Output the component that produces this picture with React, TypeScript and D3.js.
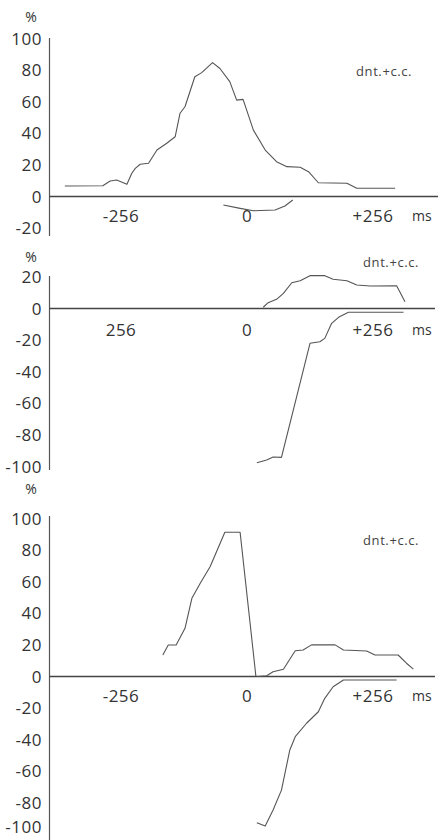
import React from "react";
import * as d3 from "d3";

// Time (ms) / percentage readings for each panel
const p1Rise: [number, number][] = [
  [-370, 6.6], [-293, 6.8], [-278, 9.8], [-265, 10.4], [-255, 9.2], [-244, 7.7],
  [-234, 14.7], [-227, 17.8], [-217, 20.4], [-200, 21], [-183, 29.4], [-163, 33.7],
  [-146, 37.8], [-136, 52.7], [-126, 56.8], [-106, 75.8], [-92, 78.4], [-70, 84.7],
  [-55, 81], [-35, 72.7], [-21, 61], [-8, 61.5], [13, 42], [37, 29.4], [60, 22],
  [81, 18.9], [108, 18.5], [125, 15.7], [145, 8.7], [203, 8.4], [223, 5.2], [301, 5.2],
];
const p1Dip: [number, number][] = [
  [-48, -5.4], [-14, -7.5], [13, -9], [57, -8.5], [77, -6], [93, -2.2],
];

const p2Rise: [number, number][] = [
  [33, 0.8], [43, 3.7], [60, 5.8], [74, 9.6], [91, 16.3], [108, 17.6], [128, 20.8],
  [158, 20.8], [175, 18.5], [203, 17.6], [223, 14.9], [250, 14.2], [304, 14.4], [321, 4.3],
];
const p2Drop: [number, number][] = [
  [20, -97.6], [40, -95.9], [53, -94], [70, -94.2], [128, -22], [148, -21],
  [158, -18.9], [172, -9.4], [186, -5.6], [206, -2.4], [318, -2.4],
];

const p3Pre: [number, number][] = [
  [-171, 13.6], [-160, 19.9], [-144, 19.9], [-126, 30.5], [-112, 49.5], [-95, 59],
  [-75, 69.5], [-45, 91.3], [-14, 91.3], [18, 0.3],
];
const p3Rise: [number, number][] = [
  [20, 0], [40, 0.5], [53, 3], [74, 4.6], [98, 16.3], [114, 16.8], [131, 20],
  [179, 20], [196, 16.8], [243, 16.1], [260, 13.6], [307, 13.6], [324, 8.4], [338, 4.7],
];
const p3Drop: [number, number][] = [
  [20, -92.5], [37, -94.6], [53, -84.5], [70, -71.9], [87, -46.5], [98, -38.1],
  [121, -29.6], [145, -22.3], [158, -13.8], [175, -6.5], [196, -2.2], [304, -2.2],
];

const p1Ticks = [100, 80, 60, 40, 20, 0, -20];
const p2Ticks = [20, 0, -20, -40, -60, -80, -100];
const p3Ticks = [100, 80, 60, 40, 20, 0, -20, -40, -60, -80, -100];
const p1XLabels: [number, string][] = [[-256, "-256"], [0, "0"], [256, "+256"]];
const p2XLabels: [number, string][] = [[-256, "256"], [0, "0"], [256, "+256"]];
const p3XLabels: [number, string][] = [[-256, "-256"], [0, "0"], [256, "+256"]];
const caption = "dnt.+c.c.";

const x = d3.scaleLinear().domain([-256, 256]).range([121, 373]);

const INK = "#555";
const TEXT = "#333";
const FONT = "'Open Sans', 'DejaVu Sans', sans-serif";

type Panel = {
  y: d3.ScaleLinear<number, number>;
  ticks: number[];
  xLabels: [number, string][];
  series: [number, number][][];
  axisTop: number;
  axisBottom: number;
  zeroEnd: number;
  pctY: number;
  labelBase: number;
  captionX: number;
  captionY: number;
};

const panels: Panel[] = [
  {
    y: d3.scaleLinear().domain([-20, 100]).range([228.1, 38.5]),
    ticks: p1Ticks, xLabels: p1XLabels, series: [p1Rise, p1Dip],
    axisTop: 38, axisBottom: 236, zeroEnd: 438, pctY: 22, labelBase: 222,
    captionX: 356, captionY: 76,
  },
  {
    y: d3.scaleLinear().domain([-100, 20]).range([466.5, 276.9]),
    ticks: p2Ticks, xLabels: p2XLabels, series: [p2Rise, p2Drop],
    axisTop: 276, axisBottom: 470, zeroEnd: 435, pctY: 262, labelBase: 336,
    captionX: 363, captionY: 267,
  },
  {
    y: d3.scaleLinear().domain([-100, 100]).range([834.5, 518.5]),
    ticks: p3Ticks, xLabels: p3XLabels, series: [p3Pre, p3Rise, p3Drop],
    axisTop: 516, axisBottom: 840, zeroEnd: 435, pctY: 494, labelBase: 702,
    captionX: 363, captionY: 545,
  },
];

// keep the lowest tick label inside the drawing area
const labelY = (v: number) => Math.min(v, 827);

function PanelView({ p }: { p: Panel }) {
  const line = d3
    .line<[number, number]>()
    .x((d) => x(d[0]))
    .y((d) => p.y(d[1]));
  const y0 = p.y(0);
  return (
    <g>
      <text x={31} y={p.pctY} fontSize={14} fill={TEXT} textAnchor="middle" fontFamily={FONT}>
        %
      </text>
      <line x1={49.5} x2={49.5} y1={p.axisTop} y2={p.axisBottom} stroke={INK} strokeWidth={1.2} />
      <line x1={49.5} x2={p.zeroEnd} y1={y0} y2={y0} stroke="#444" strokeWidth={1.6} />
      {p.ticks.map((t) => (
        <text
          key={t}
          x={42}
          y={labelY(p.y(t))}
          dy="0.36em"
          fontSize={17}
          fill={TEXT}
          textAnchor="end"
          fontFamily={FONT}
          letterSpacing={0.5}
        >
          {t}
        </text>
      ))}
      {p.xLabels.map(([t, s]) => (
        <text
          key={s + t}
          x={x(t)}
          y={p.labelBase}
          fontSize={17}
          fill={TEXT}
          textAnchor="middle"
          fontFamily={FONT}
          letterSpacing={0.5}
        >
          {s}
        </text>
      ))}
      <text x={412} y={p.labelBase - 1} fontSize={14} fill={TEXT} fontFamily={FONT}>
        ms
      </text>
      <text
        x={p.captionX}
        y={p.captionY}
        fontSize={13}
        fill="#444"
        fontFamily={FONT}
        letterSpacing={0.6}
      >
        {caption}
      </text>
      {p.series.map((s, i) => (
        <path key={i} d={line(s) ?? ""} fill="none" stroke="#555" strokeWidth={1.1} strokeLinejoin="round" />
      ))}
    </g>
  );
}

export default function App() {
  return (
    <svg
      width={440}
      height={840}
      style={{ position: "absolute", left: 0, top: 0, background: "#fff" }}
    >
      {panels.map((p, i) => (
        <PanelView key={i} p={p} />
      ))}
    </svg>
  );
}
